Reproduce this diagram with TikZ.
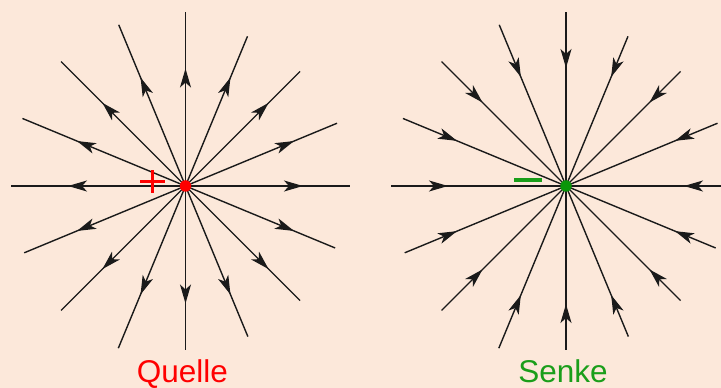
\documentclass[tikz,border=0pt]{standalone}
\usepackage{fontspec}
\setmainfont{Liberation Sans}
\usetikzlibrary{arrows.meta,decorations.markings,calc}
\definecolor{bgcol}{HTML}{FCE8DA}
\definecolor{qred}{HTML}{FF0000}
\definecolor{sgreen}{HTML}{1A9E1A}
\definecolor{dotgreen}{HTML}{0A960A}
\definecolor{linecol}{HTML}{1A1A1A}
\tikzset{
  fieldline/.style={draw=linecol, line width=1.4pt},
  outarrow/.style={fieldline, postaction={decorate}, decoration={markings,
      mark=at position 117.5pt with {\arrow{Stealth[length=19pt,width=11pt,inset=5pt]}}}},
  inarrow/.style={fieldline, postaction={decorate}, decoration={markings,
      mark=at position 118pt with {\arrowreversed{Stealth[length=19pt,width=11pt,inset=5pt]}}}},
  chargedot/.style={circle, inner sep=0pt, minimum size=11.5pt},
  labeltext/.style={anchor=base, inner sep=0pt, font=\fontsize{31.5pt}{36pt}\selectfont},
}
\begin{document}
\begin{tikzpicture}[x=1pt,y=1pt]
\fill[bgcol] (0,0) rectangle (721,388);
\useasboundingbox (0,0) rectangle (721,388);
\coordinate (L) at (185.5,202);
\coordinate (R) at (566,202);
\foreach \a/\r [count=\i] in {0/164, 22.5/164, 45/162, 67.5/162, 90/174, 112.5/174.5, 135/176, 157.5/176.5, 180/175, 202.5/174.6, 225/176, 247.5/175.6, 270/164, 292.5/163, 315/162, 337.5/162}{
  \coordinate (le\i) at ($(L)+(\a:\r)$);
  \coordinate (re\i) at ($(R)+(\a:\r)$);
  \path[outarrow] (L) -- (le\i);
  \path[inarrow] (R) -- (re\i);
}
\node[chargedot, fill=qred] (Ldot) at (L) {};
\node[chargedot, fill=dotgreen] (Rdot) at (R) {};
% plus sign
\coordinate (pc) at (152.5,206.5);
\draw[qred, line width=3.8pt] ($(pc)+(-12.5,0)$) -- ($(pc)+(12.5,0)$);
\draw[qred, line width=3.8pt] ($(pc)+(0,-11.5)$) -- ($(pc)+(0,11.5)$);
% minus sign
\draw[sgreen, line width=3.2pt] (514.3,208) -- (541.7,208);
\node[labeltext, text=qred] (quelle) at (182.3,5) {Quelle};
\node[labeltext, text=sgreen] (senke) at (563,5) {Senke};
\end{tikzpicture}
\end{document}
